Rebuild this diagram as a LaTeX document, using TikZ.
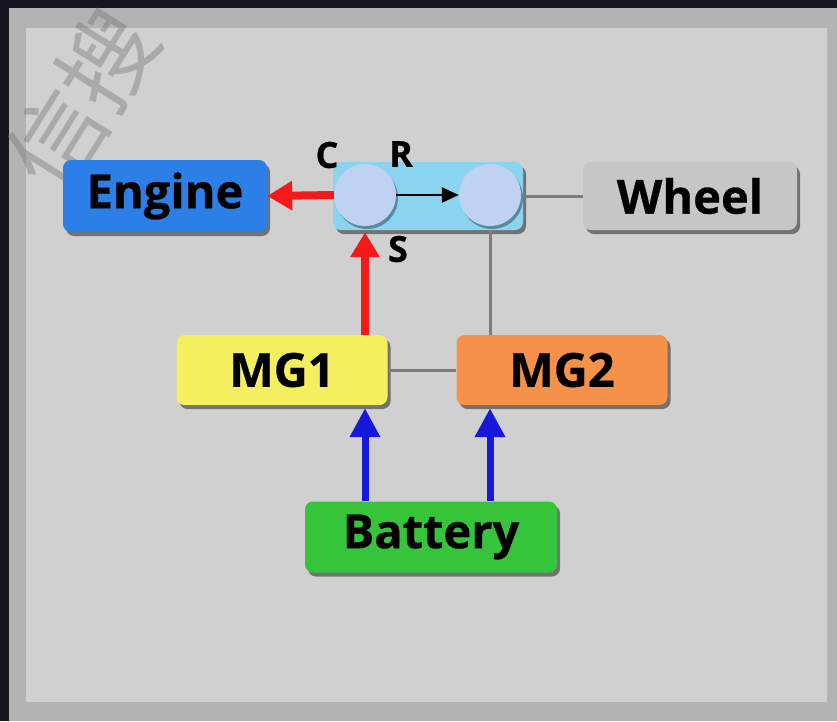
\documentclass[tikz,border=0pt]{standalone}
\usepackage{fontspec}
\setmainfont{Open Sans}[BoldFeatures={FakeBold=0.6}]
\newfontfamily\cjk{Noto Sans CJK SC}
\usetikzlibrary{arrows.meta,shadows}
\definecolor{bgdark}{HTML}{15151F}
\definecolor{framegray}{HTML}{B3B3B3}
\definecolor{panelgray}{HTML}{D0D0D0}
\definecolor{engineblue}{HTML}{2C7FE6}
\definecolor{planetcyan}{HTML}{8AD4F0}
\definecolor{gearblue}{HTML}{BFD2F3}
\definecolor{wheelgray}{HTML}{C6C6C6}
\definecolor{mgyellow}{HTML}{F3EF5E}
\definecolor{mgorange}{HTML}{F69149}
\definecolor{batgreen}{HTML}{36C43B}
\definecolor{arrred}{HTML}{F51A1A}
\definecolor{arrblue}{HTML}{1818DC}
\definecolor{linegray}{HTML}{7C7C7C}
\tikzset{
  unit/.style={rounded corners=8pt, inner sep=0pt, font=\bfseries\fontsize{47}{49}\selectfont,
    drop shadow={shadow xshift=3pt, shadow yshift=-4pt, opacity=0.45, fill=black}},
  gear/.style={circle, fill=gearblue, minimum size=62pt, inner sep=0pt,
    drop shadow={shadow xshift=2pt, shadow yshift=-3pt, opacity=0.35, fill=black}},
  lbl/.style={font=\bfseries\fontsize{36}{38}\selectfont, inner sep=0pt},
  redarrow/.style={draw=arrred, line width=8pt, -{Triangle[width=28pt,length=25pt]}},
  bluearrow/.style={draw=arrblue, line width=7pt, -{Triangle[width=29pt,length=29pt]}},
  blackarrow/.style={draw=black, line width=2.5pt, -{Triangle[width=15pt,length=17pt]}},
  grayline/.style={draw=linegray, line width=3pt}
}
\begin{document}
\begin{tikzpicture}[x=1pt,y=-1pt]
\useasboundingbox (0,0) rectangle (837,721);
\fill[bgdark] (0,0) rectangle (837,721);
\fill[framegray] (9,8) rectangle (837,721);
\fill[panelgray] (26,28) rectangle (827,702);
% watermark
\node[rotate=58, text=black!55, opacity=0.4, font=\cjk\fontsize{95}{95}\selectfont, inner sep=0pt] (wm) at (82,100) {信搜};
% nodes
\node[unit, fill=engineblue, minimum width=204pt, minimum height=72pt] (engine) at (165,196) {Engine};
\node[unit, fill=planetcyan, minimum width=190pt, minimum height=68pt, font=\normalsize] (pg) at (428,196) {};
\node[gear] (cl) at (365,195) {};
\node[gear] (cr) at (490,195) {};
\node[unit, fill=wheelgray, minimum width=214pt, minimum height=68pt] (wheel) at (690,196) {Wheel};
\node[unit, fill=mgyellow, minimum width=211pt, minimum height=70pt] (mg1) at (282,370) {MG1};
\node[unit, fill=mgorange, minimum width=211pt, minimum height=70pt] (mg2) at (562,370) {MG2};
\node[unit, fill=batgreen, minimum width=252pt, minimum height=71pt] (battery) at (431,537) {Battery};
% labels
\node[lbl] (lc) at (327,155) {C};
\node[lbl] (lr) at (401,154) {R};
\node[lbl] (ls) at (398,249) {S};
% connectors
\draw[grayline] (pg.east) -- (wheel.west);
\draw[grayline] (pg.south -| cr) -- (mg2.north -| cr);
\draw[grayline] (mg1.east) -- (mg2.west);
\draw[blackarrow] (cl.east) -- (cr.west);
\draw[redarrow] (cl.west) -- (engine.east);
\draw[redarrow] (mg1.north -| cl) -- ([yshift=-2pt]pg.south -| cl);
\draw[bluearrow] (battery.north -| cl) -- ([yshift=-3pt]mg1.south -| cl);
\draw[bluearrow] (battery.north -| cr) -- ([yshift=-3pt]mg2.south -| cr);
\end{tikzpicture}
\end{document}
